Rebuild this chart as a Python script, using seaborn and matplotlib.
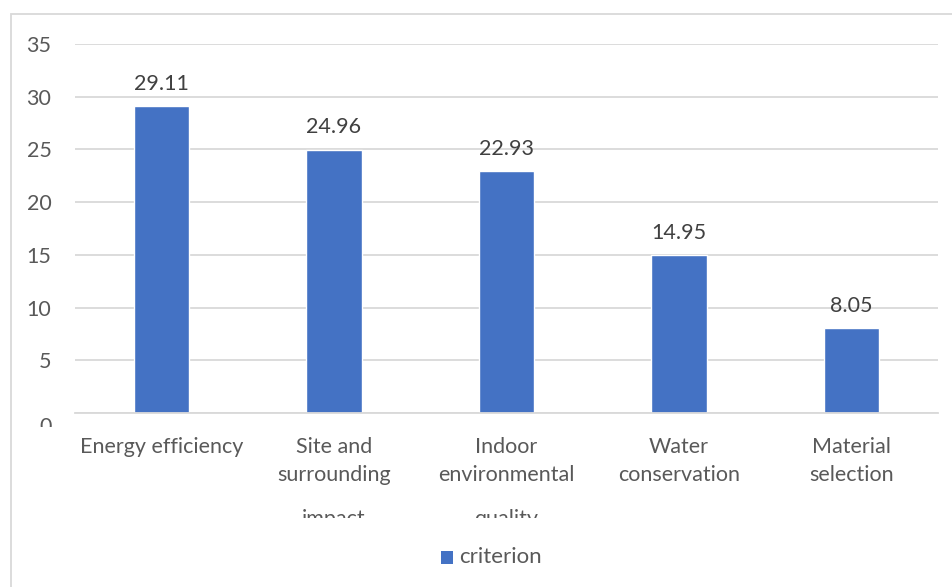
import matplotlib
matplotlib.use("Agg")
import matplotlib.pyplot as plt
import matplotlib.transforms as mtransforms
from matplotlib.patches import Rectangle
import seaborn as sns
import pandas as pd

categories = ["Energy efficiency", "Site and surrounding impact", "Indoor environmental quality",
              "Water conservation", "Material selection"]
label_lines = [["Energy efficiency"], ["Site and", "surrounding", "impact"],
               ["Indoor", "environmental", "quality"], ["Water", "conservation"],
               ["Material", "selection"]]
values = [29.11, 24.96, 22.93, 14.95, 8.05]
value_labels = ["29.11", "24.96", "22.93", "14.95", "8.05"]
series_name = "criterion"
yticks = [0, 5, 10, 15, 20, 25, 30, 35]

BLUE = "#4472C4"
GRID = "#D9D9D9"
TXT = "#595959"
FS = 15.5

sns.set_theme(style="white")
plt.rcParams["font.family"] = ["Lato", "DejaVu Sans"]

W, H = 953, 587
fig = plt.figure(figsize=(W / 100, H / 100), dpi=100)
ax = fig.add_axes([75 / W, 1 - 413 / H, (938 - 75) / W, (413 - 44) / H])

df = pd.DataFrame({"cat": categories, "val": values})
sns.barplot(data=df, x="cat", y="val", color=BLUE, width=0.32, ax=ax, saturation=1)

ax.set_ylim(0, 35)
ax.set_xlim(-0.5, len(categories) - 0.5)
ax.set_yticks(yticks)
ax.set_yticklabels([str(t) for t in yticks], fontsize=FS, color=TXT)
ax.tick_params(axis="y", length=0, pad=17)
ax.yaxis.grid(True, color=GRID, linewidth=1.3)
ax.set_axisbelow(True)
for s in ["left", "right", "top"]:
    ax.spines[s].set_visible(False)
ax.spines["bottom"].set_color(GRID)
ax.spines["bottom"].set_linewidth(1.3)
ax.set_xlabel("")
ax.set_ylabel("")
ax.set_xticks(range(len(categories)))
ax.set_xticklabels([""] * len(categories))
ax.tick_params(axis="x", length=0)

# shift & clip the "0" label like the reference
clip_rect_top = mtransforms.TransformedBbox(
    mtransforms.Bbox([[0, 1 - 427 / H], [1, 1]]), fig.transFigure)
for lbl in ax.get_yticklabels():
    if lbl.get_text() == "0":
        lbl.set_transform(lbl.get_transform() + mtransforms.ScaledTranslation(0, -12 / 100, fig.dpi_scale_trans))
        lbl.set_clip_box(clip_rect_top)
        lbl.set_clip_on(True)

# value labels
for i, (v, t) in enumerate(zip(values, value_labels)):
    ax.annotate(t, (i, v), xytext=(0, 9), textcoords="offset points",
                ha="center", va="bottom", fontsize=FS, color="#404040")

# category labels (wrapped, third line clipped as in the reference)
clip_lbl = mtransforms.TransformedBbox(
    mtransforms.Bbox([[0, 1 - 518 / H], [1, 1]]), fig.transFigure)
line_y = [447, 475, 519]
for i, lines in enumerate(label_lines):
    for j, line in enumerate(lines):
        t = ax.text(i, 1 - line_y[j] / H, line,
                    transform=mtransforms.blended_transform_factory(ax.transData, fig.transFigure),
                    fontsize=FS, color=TXT, ha="center", va="center")
        if j == 2:
            t.set_clip_box(clip_lbl)
            t.set_clip_on(True)

# legend
fig.patches.append(Rectangle((441 / W, 1 - 564 / H), 12 / W, 13 / H, transform=fig.transFigure,
                             facecolor=BLUE, edgecolor="none"))
fig.text(459 / W, 1 - 557 / H, series_name, fontsize=FS + 0.5, color=TXT, ha="left", va="center")

# chart border (extends beyond the crop)
fig.patches.append(Rectangle((11 / W, -0.1), 1.2, 1 - 14 / H + 0.1, transform=fig.transFigure,
                             facecolor="none", edgecolor=GRID, linewidth=1.3))

fig.savefig("out.png", dpi=100)
